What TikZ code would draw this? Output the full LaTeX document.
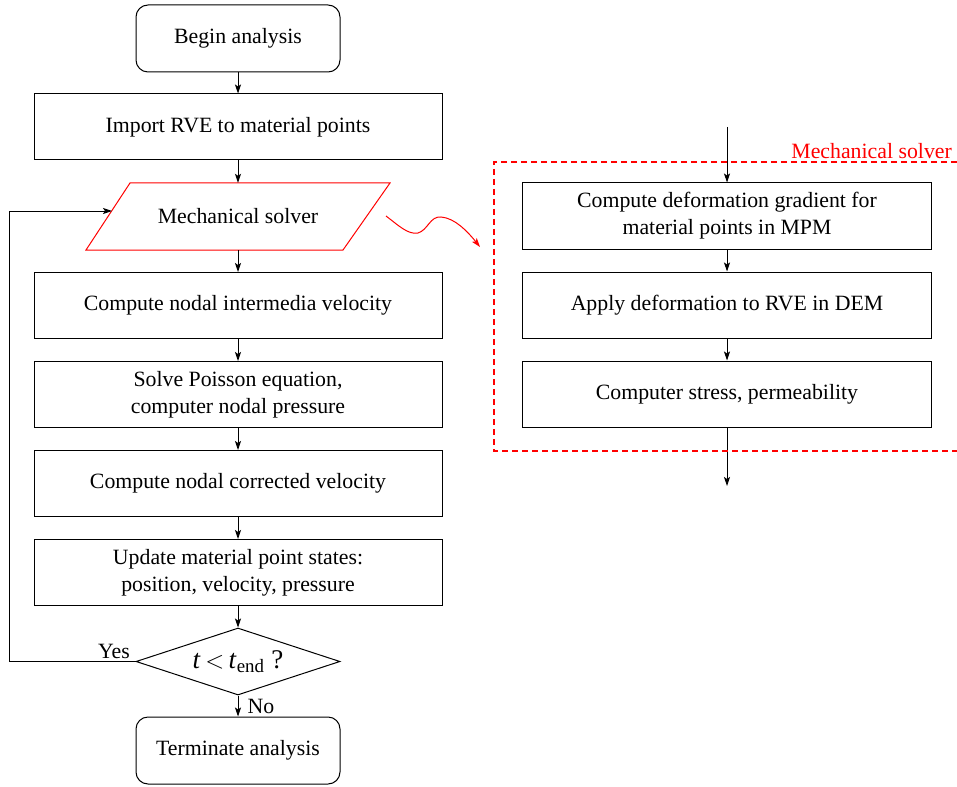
\documentclass[tikz,border=0pt]{standalone}
\usepackage{fontspec}
\setmainfont{Liberation Serif}
\usetikzlibrary{shapes.geometric,arrows.meta}
\newcommand{\fsz}{\fontsize{21.8}{27}\selectfont}
\begin{document}
\begin{tikzpicture}[x=1pt,y=-1pt,
  every node/.style={font=\fsz},
  box/.style={draw, line width=1pt, minimum width=408pt, minimum height=66pt, align=center, inner sep=2pt},
  rbox/.style={draw, line width=1pt, rounded corners=12pt, minimum width=204pt, minimum height=67pt, align=center},
  arr/.style={line width=0.9pt, -{Stealth[length=9pt,width=6pt,inset=2pt]}},
  lbl/.style={inner sep=1pt}]
\useasboundingbox (0,0) rectangle (957,786);

% left column
\node[rbox] (begin) at (238,38.5) {Begin analysis};
\node[box] (import) at (238,127) {Import RVE to material points};
\draw[red, line width=1pt] (130,183) -- (390,183) -- (343,250) -- (86,250) -- cycle;
\node[minimum width=300pt, minimum height=67pt, inner sep=0pt] (mech) at (238,216.5) {Mechanical solver};
\coordinate (mechleft) at (112,211);
\node[box] (inter) at (238,305.5) {Compute nodal intermedia velocity};
\node[box] (poisson) at (238,394.5) {Solve Poisson equation,\\ computer nodal pressure};
\node[box] (corr) at (238,483.5) {Compute nodal corrected velocity};
\node[box] (update) at (238,572.5) {Update material point states:\\ position, velocity, pressure};
\node[draw, line width=1pt, diamond, aspect=3, inner sep=0pt, minimum width=204pt, minimum height=67pt]
  (cond) at (238,661.5) {\fontsize{27}{30}\selectfont\textit{t}\,$<$\,\textit{t}\textsubscript{end} ?};
\node[rbox] (term) at (238,750.5) {Terminate analysis};

\draw[arr] (begin) -- (import);
\draw[arr] (import) -- (mech);
\draw[arr] (mech) -- (inter);
\draw[arr] (inter) -- (poisson);
\draw[arr] (poisson) -- (corr);
\draw[arr] (corr) -- (update);
\draw[arr] (update) -- (cond);
\draw[arr] (cond) -- (term);
\draw[arr] (cond.west) -| (9,211) -- (mechleft);
\node[lbl] (yes) at (114,651) {Yes};
\node[lbl] (no) at (261,706) {No};

% right column
\coordinate (rtop) at (727,127);
\coordinate (rbot) at (727,486);
\node[box, minimum width=409pt] (r1) at (727,216) {Compute deformation gradient for\\ material points in MPM};
\node[box, minimum width=409pt] (r2) at (727,305) {Apply deformation to RVE in DEM};
\node[box, minimum width=409pt] (r3) at (727,394) {Computer stress, permeability};
\draw[arr] (rtop) -- (r1);
\draw[arr] (r1) -- (r2);
\draw[arr] (r2) -- (r3);
\draw[arr] (r3) -- (rbot);

% dashed frame
\draw[red, line width=1.2pt, dash pattern=on 6pt off 4pt] (957,162) -- (494,162) -- (494,451) -- (957,451);
\node[red, anchor=south east, inner sep=1pt] (mslabel) at (953,160) {Mechanical solver};

% squiggle
\coordinate (sq0) at (386,216);
\coordinate (sq1) at (418,233);
\coordinate (sq2) at (441,217);
\coordinate (sq3) at (480,247);
\draw[red, line width=1pt, -{Stealth[length=9pt,width=6pt,inset=2pt]}]
  (sq0) .. controls (398,225) and (408,235) .. (sq1)
  .. controls (428,230) and (430,216) .. (sq2)
  .. controls (455,218) and (468,232) .. (sq3);
\end{tikzpicture}
\end{document}
